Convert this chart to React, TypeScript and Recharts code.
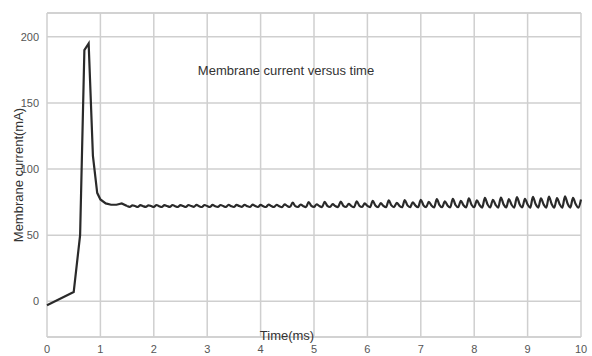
import {CartesianGrid, Line, LineChart, ReferenceLine, XAxis, YAxis} from "recharts";

// spike at the start, each pair is [time ms, current mA]
const headTimes = [0, 0.5, 0.62, 0.7, 0.78, 0.86, 0.94, 1.0, 1.1, 1.2, 1.3, 1.4, 1.5];
const headValues = [-3, 7, 50, 190, 195, 110, 82, 77, 74, 73, 73, 74, 72];

// after 1.5 ms the current is sampled every 0.05 ms
const tailStart = 1.5;
const tailStep = 0.05;
const tailValues = [
  72,
  71.4, 72.6, 72.0, 71.3, 72.7, 71.9, 71.4, 72.6, 72.0, 71.3,
  72.8, 71.9, 71.3, 72.7, 72.0, 71.4, 72.8, 71.9, 71.3, 72.7,
  72.0, 71.3, 72.8, 72.0, 71.4, 72.9, 71.9, 71.3, 72.8, 72.0,
  71.3, 72.9, 71.9, 71.4, 72.8, 72.0, 71.3, 73.0, 71.9, 71.3,
  72.9, 72.0, 71.4, 73.0, 71.9, 71.3, 73.1, 72.0, 71.3, 72.9,
  71.9, 71.3, 73.2, 72.0, 71.3, 73.0, 71.9, 71.2, 73.3, 72.0,
  71.3, 74.6, 72.0, 71.3, 73.2, 71.9, 71.2, 75.0, 72.1, 71.3,
  73.4, 72.0, 71.2, 75.2, 72.2, 71.3, 73.5, 72.0, 71.2, 75.4,
  72.2, 71.3, 73.6, 72.0, 71.2, 75.6, 72.3, 71.3, 74.0, 72.1,
  71.2, 76.0, 72.4, 71.2, 74.2, 72.1, 71.1, 76.3, 72.5, 71.2,
  74.5, 72.2, 71.1, 76.5, 72.5, 71.2, 74.8, 72.3, 71.1, 76.8,
  72.6, 71.2, 75.2, 72.4, 71.0, 77.2, 72.8, 71.1, 75.6, 72.5,
  71.0, 77.5, 72.8, 71.1, 76.0, 72.6, 71.0, 77.8, 73.0, 71.1,
  76.4, 72.8, 70.9, 78.2, 73.2, 71.0, 76.8, 73.0, 70.9, 78.5,
  73.3, 71.0, 77.2, 73.0, 70.9, 78.8, 73.4, 71.0, 77.5, 73.2,
  70.8, 79.0, 73.5, 70.9, 77.8, 73.3, 70.8, 79.2, 73.6, 70.9,
  78.0, 73.4, 70.8, 79.4, 73.7, 70.9, 78.2, 73.5, 70.8, 77.0,
];

const xTicks = [0, 1, 2, 3, 4, 5, 6, 7, 8, 9, 10];
const yTicks = [0, 50, 100, 150, 200];
const yMin = -27;
const yMax = 218;

const data = [
  ...headTimes.slice(0, -1).map((t, i) => ({t, head: headValues[i]})),
  ...tailValues.map((v, i) => ({
    t: +(tailStart + i * tailStep).toFixed(2),
    head: i === 0 ? v : undefined,
    tail: v,
  })),
];

const font = "Arial, 'Liberation Sans', sans-serif";
const gridColor = "#cfcfcf";
const lineColor = "#2a2a2a";
const tick = {fontSize: 11, fill: "#555", fontFamily: font};

export default function App() {
  return (
    <div style={{position: "absolute", left: 0, top: 0, width: 592, height: 356, background: "#fff"}}>
      <LineChart width={592} height={356} data={data} margin={{top: 13, right: 11, bottom: 0, left: 0}}>
        <CartesianGrid stroke={gridColor} strokeWidth={1.5} />
        <ReferenceLine y={yMax} stroke={gridColor} strokeWidth={1.5} />
        <XAxis
          dataKey="t"
          type="number"
          domain={[0, 10]}
          ticks={xTicks}
          height={19}
          tick={tick}
          tickLine={false}
          axisLine={{stroke: gridColor, strokeWidth: 1.5}}
        />
        <YAxis
          type="number"
          domain={[yMin, yMax]}
          ticks={yTicks}
          width={47}
          tick={tick}
          tickLine={false}
          axisLine={false}
        />
        <Line
          type="linear"
          dataKey="head"
          stroke={lineColor}
          strokeWidth={2.2}
          dot={false}
          isAnimationActive={false}
        />
        <Line
          type="monotone"
          dataKey="tail"
          stroke={lineColor}
          strokeWidth={2.2}
          dot={false}
          isAnimationActive={false}
        />
      </LineChart>
      <svg
        width={592}
        height={356}
        style={{position: "absolute", left: 0, top: 0, pointerEvents: "none"}}
      >
        <g fontFamily={font} fill="#333" fontSize={13} textAnchor="middle">
          <text x={286} y={75}>Membrane current versus time</text>
          <text x={287} y={340}>Time(ms)</text>
          <text transform="translate(23 175) rotate(-90)" x={0} y={0}>
            Membrane current(mA)
          </text>
        </g>
      </svg>
    </div>
  );
}
